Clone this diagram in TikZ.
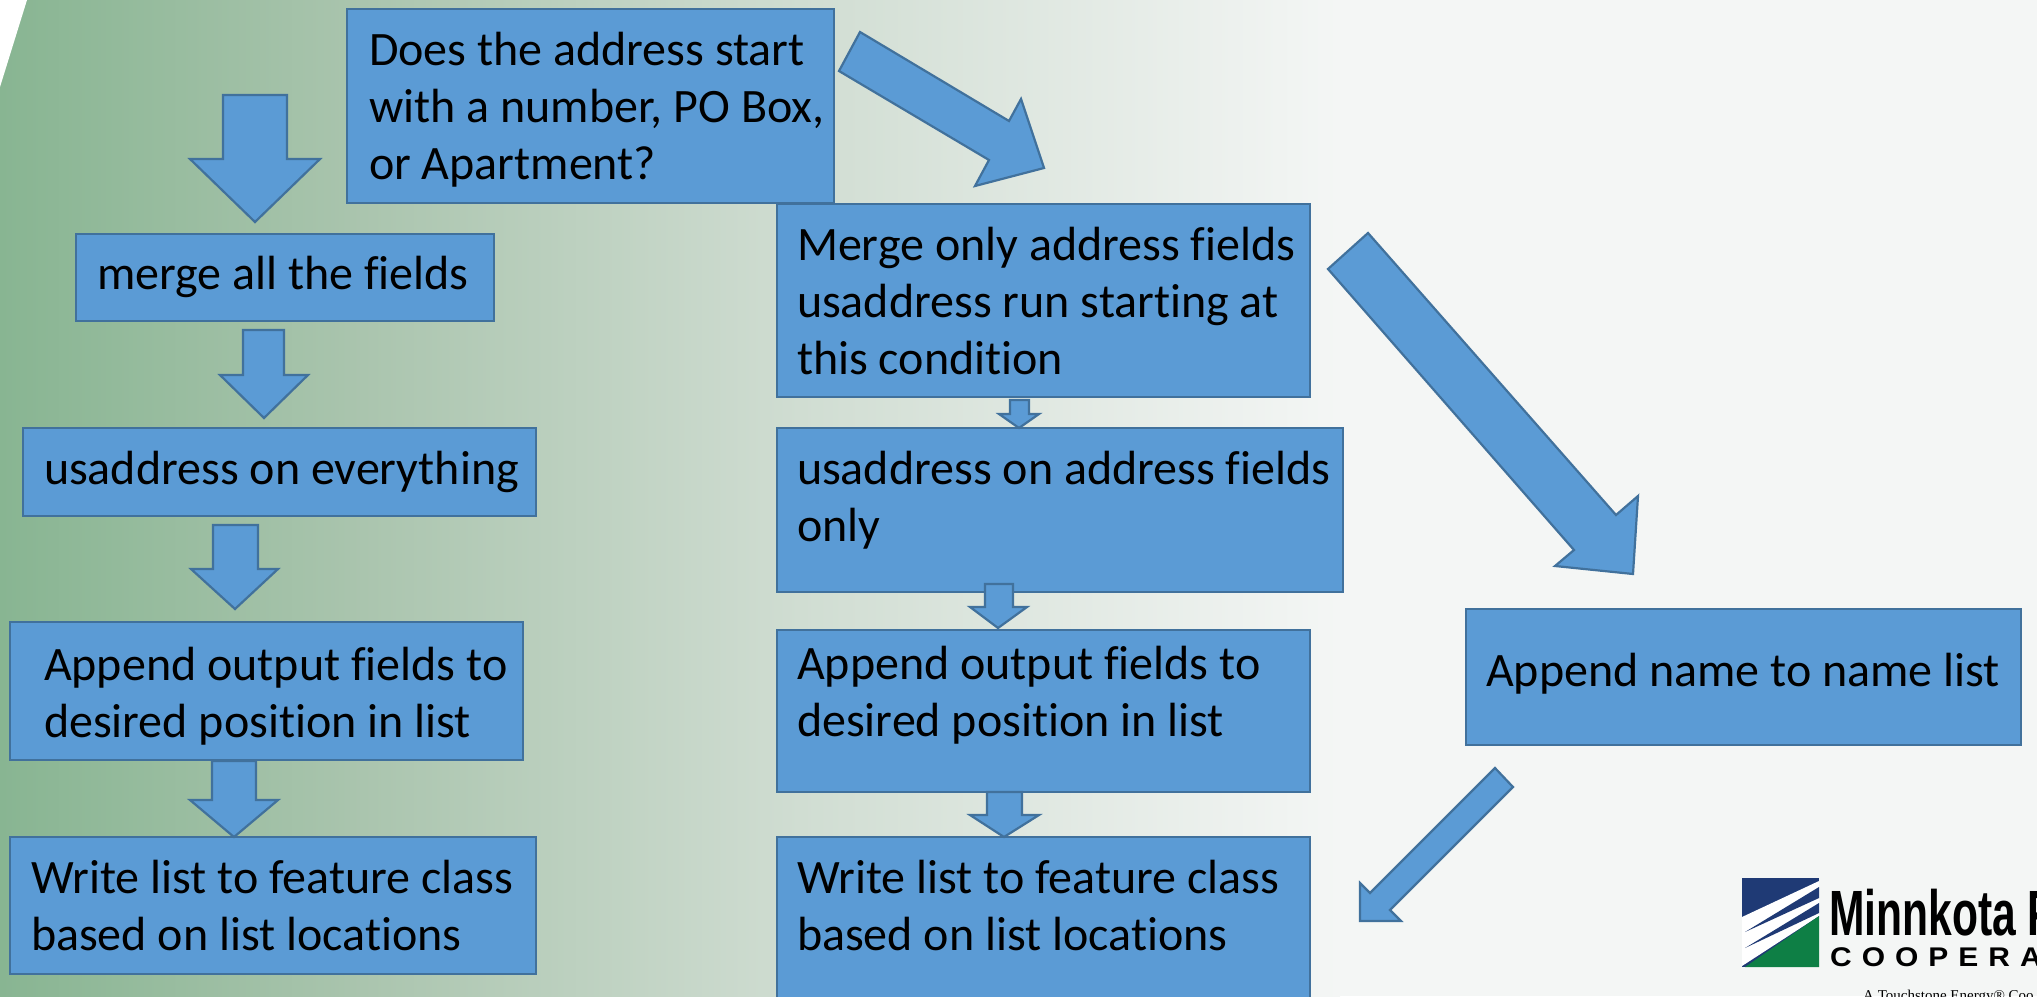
\documentclass[tikz,border=0pt]{standalone}
\usepackage{fontspec}
\setmainfont{Carlito}[Ligatures=NoCommon]
\newfontfamily\logofont{Liberation Sans}
\newfontfamily\logoserif{Liberation Serif}
\definecolor{boxfill}{HTML}{5B9BD5}
\definecolor{boxline}{HTML}{41719C}
\definecolor{bgA}{HTML}{88B592}
\definecolor{bgB}{HTML}{A9C4AD}
\definecolor{bgC}{HTML}{D0DDD2}
\definecolor{bgD}{HTML}{F4F6F5}
\definecolor{logoblue}{HTML}{1F3A75}
\definecolor{logogreen}{HTML}{0E7F45}
\pgfdeclarehorizontalshading{bgshade}{100bp}{color(0bp)=(bgA); color(25bp)=(bgA); color(38.06bp)=(bgB); color(54.85bp)=(bgC); color(75bp)=(bgD); color(100bp)=(bgD)}
\tikzset{
 boxst/.style={draw=boxline,line width=2.2pt,fill=boxfill,anchor=north west,inner sep=0pt,outer sep=0pt,text=black},
 arrowst/.style={draw=boxline,line width=2.2pt,fill=boxfill,line join=miter}
}
% name, x, y, w, h, left pad, first baseline offset, text
\newcommand{\flowbox}[8]{%
 \node[boxst,minimum width=#4pt,minimum height=#5pt] (#1) at (#2,#3)
 {\parbox[t][#5pt][t]{#4pt}{\fontsize{48}{57}\selectfont\raggedright\leftskip=#6pt\rule{0pt}{#7pt}#8}};}
% shaft left, shaft right, top, neck, head left, head right, tip x, tip y
\newcommand{\blockdown}[8]{%
 \draw[arrowst] (#1,#3) -- (#2,#3) -- (#2,#4) -- (#6,#4) -- (#7,#8) -- (#5,#4) -- (#1,#4) -- cycle;}
\begin{document}
\begin{tikzpicture}[x=1pt,y=-1pt]
\useasboundingbox (0,0) rectangle (2037,996);
\begin{scope}
\clip (0,0) rectangle (2037,996);
\fill[bgD] (0,0) rectangle (2037,996);
\shade[shading=bgshade] (0,0) rectangle (1340,996);
\fill[white] (0,0) -- (27,0) -- (0,87) -- cycle;
% logo
\fill[logoblue] (1742,878) rectangle (1819,967);
\fill[white] (1742,917) -- (1819,881) -- (1819,916) -- (1742,966) -- cycle;
\fill[logoblue] (1745,932) -- (1819,887) -- (1819,898) -- cycle;
\fill[logoblue] (1745,948) -- (1819,903) -- (1819,913) -- cycle;
\fill[logogreen] (1745,967) -- (1819,916) -- (1819,967) -- cycle;
\node[anchor=base west,inner sep=0pt,font=\logofont\bfseries\fontsize{64}{64}\selectfont,xscale=0.665,transform shape] (logoa) at (1829,935) {Minnkota P};
\node[anchor=base west,inner sep=0pt,font=\logofont\bfseries\fontsize{27}{27}\selectfont,xscale=1.11,transform shape] (logob) at (1830,966) {C\hspace{9pt}O\hspace{9pt}O\hspace{9pt}P\hspace{9pt}E\hspace{9pt}R\hspace{9pt}A};
\node[anchor=base west,inner sep=0pt,font=\logoserif\fontsize{15}{15}\selectfont] (logoc) at (1863,1000) {A Touchstone Energy® Coo};
\end{scope}
% boxes
\flowbox{q}{347}{9}{487}{194}{22}{56}{Does the address start\\with a number, PO Box,\\or Apartment?}
\flowbox{allf}{76}{234}{418}{87}{21}{55}{merge all the fields}
\flowbox{ueve}{23}{428}{513}{88}{21}{56}{usaddress on everything}
\flowbox{appl}{10}{622}{513}{138}{34}{58}{Append output fields to\\desired position in list}
\flowbox{wril}{10}{837}{526}{137}{21}{56}{Write list to feature class\\based on list locations}
\flowbox{mrga}{777}{204}{533}{193}{20}{56}{Merge only address fields\\usaddress run starting at\\this condition}
\flowbox{uadd}{777}{428}{566}{164}{20}{56}{usaddress on address fields\\only}
\flowbox{appm}{777}{630}{533}{162}{20}{49}{Append output fields to\\desired position in list}
\flowbox{wrim}{777}{837}{533}{165}{20}{56}{Write list to feature class\\based on list locations}
\flowbox{name}{1466}{609}{555}{136}{20}{77}{Append name to name list}
% block arrows
\blockdown{223}{287}{95}{159}{190}{320}{255}{222}
\blockdown{243}{284}{330}{375}{220}{308}{264}{418}
\blockdown{213}{258}{525}{569}{191}{278}{235}{609}
\blockdown{212}{256}{761}{800}{190}{278}{234}{837}
\blockdown{1010}{1029}{400}{414}{999}{1039}{1019}{428}
\blockdown{985}{1013}{584}{607}{970}{1027}{998}{628}
\blockdown{987}{1022}{792}{815}{970}{1039}{1004}{837}
\draw[arrowst] (860,32) -- (1009,121) -- (1021,99) -- (1044,168) -- (975,186) -- (989,160) -- (839,71) -- cycle;
\draw[arrowst] (1368,233) -- (1616,515) -- (1638,496) -- (1633,574) -- (1555,566) -- (1574,550) -- (1328,269) -- cycle;
\draw[arrowst] (1513,787) -- (1390,910) -- (1401,921) -- (1360,921) -- (1360,883) -- (1370,893) -- (1495,768) -- cycle;
\end{tikzpicture}
\end{document}
